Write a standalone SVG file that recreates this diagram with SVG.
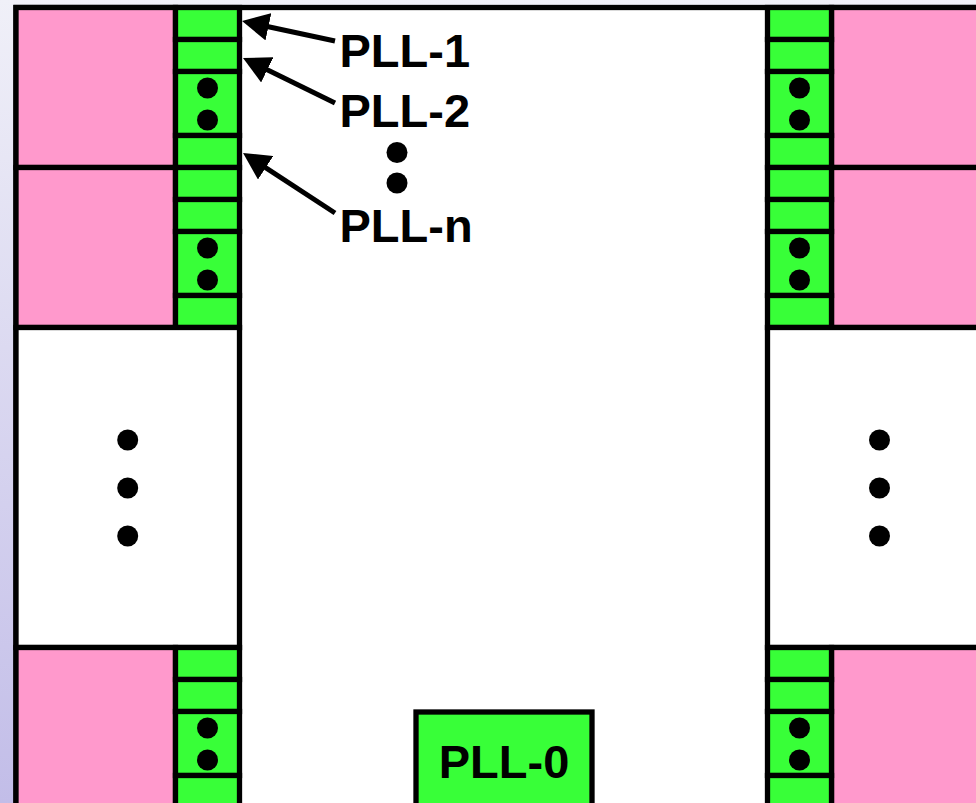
<svg xmlns="http://www.w3.org/2000/svg" width="976" height="803" viewBox="0 0 976 803">
<defs>
<linearGradient id="bg" x1="0" y1="0" x2="0" y2="1">
<stop offset="0" stop-color="#f0f0f8"/>
<stop offset="1" stop-color="#c2bde8"/>
</linearGradient>
<marker id="ah" viewBox="0 0 27 28" markerWidth="27" markerHeight="28" refX="12" refY="14" orient="auto" markerUnits="userSpaceOnUse">
<path d="M0,0 L27,14 L0,28 z" fill="#000"/>
</marker>
<g id="cells">
<rect x="0" y="0" width="64" height="32" class="g"/>
<rect x="0" y="32" width="64" height="32" class="g"/>
<rect x="0" y="64" width="64" height="64" class="g"/>
<rect x="0" y="128" width="64" height="32" class="g"/>
<circle cx="32" cy="80.5" r="10.5" class="d"/>
<circle cx="32" cy="112.5" r="10.5" class="d"/>
</g>
</defs>
<style>
.p{fill:#ff99cc;stroke:#000;stroke-width:5.3}
.g{fill:#38ff38;stroke:#000;stroke-width:5.3}
.w{fill:#fff;stroke:#000;stroke-width:5.3}
.d{fill:#000}
.t{font-family:"Liberation Sans",Arial,sans-serif;font-weight:bold;font-size:47px;fill:#000}
.c{fill:none;stroke:#000;stroke-width:5;marker-end:url(#ah)}
</style>
<rect x="0" y="0" width="976" height="803" fill="url(#bg)"/>
<g id="frame">
<rect x="16" y="7.5" width="975.5" height="860" class="w"/>
</g>
<g id="left-block-1">
<rect x="16" y="7.5" width="159.5" height="160" class="p"/>
<use href="#cells" x="175.5" y="7.5"/>
</g>
<g id="left-block-2">
<rect x="16" y="167.5" width="159.5" height="160" class="p"/>
<use href="#cells" x="175.5" y="167.5"/>
</g>
<g id="left-gap">
<rect x="16" y="327.5" width="223.5" height="320" class="w"/>
<circle cx="127.7" cy="440" r="10.5" class="d"/>
<circle cx="127.7" cy="488" r="10.5" class="d"/>
<circle cx="127.7" cy="536" r="10.5" class="d"/>
</g>
<g id="left-block-3">
<rect x="16" y="647.5" width="159.5" height="160" class="p"/>
<use href="#cells" x="175.5" y="647.5"/>
</g>
<g id="right-block-1">
<rect x="831.5" y="7.5" width="160" height="160" class="p"/>
<use href="#cells" x="767.5" y="7.5"/>
</g>
<g id="right-block-2">
<rect x="831.5" y="167.5" width="160" height="160" class="p"/>
<use href="#cells" x="767.5" y="167.5"/>
</g>
<g id="right-gap">
<rect x="767.5" y="327.5" width="224" height="320" class="w"/>
<circle cx="879.5" cy="440" r="10.5" class="d"/>
<circle cx="879.5" cy="488" r="10.5" class="d"/>
<circle cx="879.5" cy="536" r="10.5" class="d"/>
</g>
<g id="right-block-3">
<rect x="831.5" y="647.5" width="160" height="160" class="p"/>
<use href="#cells" x="767.5" y="647.5"/>
</g>
<g id="pll0">
<rect x="416" y="712" width="176" height="120" class="g"/>
<text x="504" y="778" text-anchor="middle" class="t">PLL-0</text>
</g>
<g id="pll1">
<text x="339.5" y="67" class="t">PLL-1</text>
</g>
<g id="pll2">
<text x="339.5" y="127" class="t">PLL-2</text>
</g>
<g id="pll-dots">
<circle cx="397" cy="152.5" r="10.5" class="d"/>
<circle cx="397" cy="183" r="10.5" class="d"/>
</g>
<g id="plln">
<text x="339.5" y="242" class="t">PLL-n</text>
</g>
<g id="connectors">
<path d="M335,41 L256.7,24.2" class="c"/>
<path d="M335,103 L256.5,64.6" class="c"/>
<path d="M335,213 L255.6,161.2" class="c"/>
</g>
</svg>
